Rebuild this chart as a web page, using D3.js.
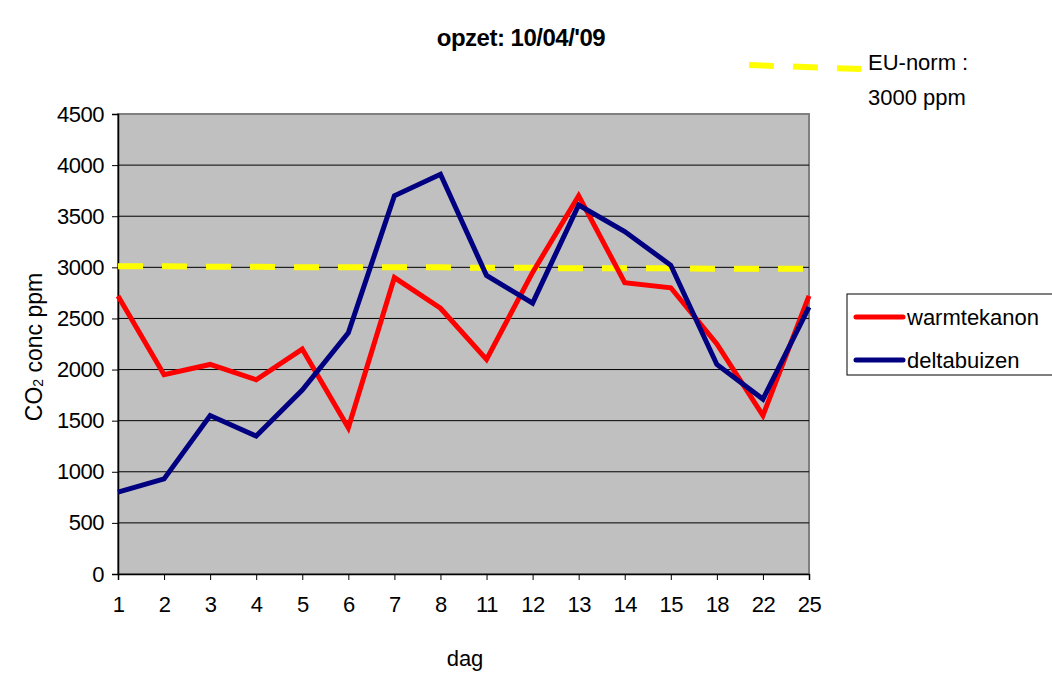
<!DOCTYPE html>
<html>
<head>
<meta charset="utf-8">
<script src="https://cdn.jsdelivr.net/npm/d3@7"></script>
<style>
  body { margin: 0; background: #fff; }
  svg { font-family: "Liberation Sans", Arial, sans-serif; }
</style>
</head>
<body>
<svg id="chart" width="1052" height="673"></svg>
<script>
// dagen (categorie-as)
const days = ["1", "2", "3", "4", "5", "6", "7", "8", "11", "12", "13", "14", "15", "18", "22", "25"];
const warmtekanon = [2720, 1950, 2050, 1900, 2200, 1430, 2900, 2600, 2100, 2950, 3700, 2850, 2800, 2250, 1550, 2720];
const deltabuizen = [800, 930, 1550, 1350, 1800, 2360, 3700, 3910, 2920, 2650, 3610, 3350, 3020, 2050, 1710, 2610];
const euNorm = [3010, 3010, 3005, 3005, 3000, 3000, 3000, 3000, 2995, 2995, 2990, 2990, 2990, 2985, 2985, 2985];
const yTicks = [0, 500, 1000, 1500, 2000, 2500, 3000, 3500, 4000, 4500];

const svg = d3.select("#chart");
const plotLeft = 118, plotRight = 809, plotTop = 114, plotBottom = 574;

let x = d3.scalePoint().domain(days).range([plotLeft, plotRight]);
let y = d3.scaleLinear().domain([0, 4500]).range([plotBottom, plotTop]);

// plot area
svg.append("rect")
    .attr("x", plotLeft).attr("y", plotTop)
    .attr("width", plotRight - plotLeft).attr("height", plotBottom - plotTop)
    .attr("fill", "#c0c0c0")
    .attr("stroke", "#808080")
    .attr("stroke-width", 2);

// gridlines
svg.append("g")
    .selectAll("line")
    .data(yTicks.filter(d => d > 0 && d < 4500))
    .enter().append("line")
    .attr("x1", plotLeft).attr("x2", plotRight)
    .attr("y1", d => y(d)).attr("y2", d => y(d))
    .attr("stroke", "#000").attr("stroke-width", 1);

// axes
let yAxis = d3.axisLeft(y).tickValues(yTicks).tickFormat(d3.format("d")).tickSize(6).tickPadding(8);
let gy = svg.append("g").attr("transform", `translate(${plotLeft},0)`).call(yAxis);
gy.select(".domain").attr("stroke", "#000").attr("stroke-width", 1.5);
gy.selectAll("text").attr("font-size", 22).attr("letter-spacing", -0.5).attr("fill", "#000");

let xAxis = d3.axisBottom(x).tickSize(6).tickPadding(16);
let gx = svg.append("g").attr("transform", `translate(0,${plotBottom})`).call(xAxis);
gx.select(".domain").attr("stroke", "#000").attr("stroke-width", 1.5);
gx.selectAll("text").attr("font-size", 22).attr("letter-spacing", -0.5).attr("fill", "#000");

// lines
let line = d3.line().x((d, i) => x(days[i])).y(d => y(d));

svg.append("path").datum(euNorm)
    .attr("d", line).attr("fill", "none")
    .attr("stroke", "#ffff00").attr("stroke-width", 6)
    .attr("stroke-dasharray", "25,19");

svg.append("path").datum(warmtekanon)
    .attr("d", line).attr("fill", "none")
    .attr("stroke", "#ff0000").attr("stroke-width", 5)
    .attr("stroke-linejoin", "miter");

svg.append("path").datum(deltabuizen)
    .attr("d", line).attr("fill", "none")
    .attr("stroke", "#000080").attr("stroke-width", 5)
    .attr("stroke-linejoin", "miter");

// titles
svg.append("text")
    .attr("x", 521).attr("y", 46)
    .attr("text-anchor", "middle")
    .attr("font-size", 24).attr("font-weight", "bold")
    .attr("letter-spacing", -0.5)
    .text("opzet: 10/04/'09");

svg.append("text")
    .attr("x", 465).attr("y", 666)
    .attr("text-anchor", "middle")
    .attr("font-size", 22)
    .text("dag");

let yl = svg.append("text")
    .attr("transform", "translate(42,347) rotate(-90)")
    .attr("text-anchor", "middle")
    .attr("font-size", 23);
yl.append("tspan").text("CO");
yl.append("tspan").attr("font-size", 14).attr("dy", 1).text("2");
yl.append("tspan").attr("dy", -1).text(" conc ppm");

// EU-norm legend
svg.append("line")
    .attr("x1", 749).attr("y1", 65).attr("x2", 861).attr("y2", 69)
    .attr("stroke", "#ffff00").attr("stroke-width", 6)
    .attr("stroke-dasharray", "25,19");
svg.append("text").attr("x", 868).attr("y", 70).attr("font-size", 22).text("EU-norm :");
svg.append("text").attr("x", 868).attr("y", 105).attr("font-size", 22).text("3000 ppm");

// legend
let legend = svg.append("g");
legend.append("rect")
    .attr("x", 847).attr("y", 294).attr("width", 220).attr("height", 81)
    .attr("fill", "#fff").attr("stroke", "#000").attr("stroke-width", 1);

let items = [
    { name: "warmtekanon", color: "#ff0000" },
    { name: "deltabuizen", color: "#000080" }
];
items.forEach((it, i) => {
    let ly = 317 + i * 43;
    legend.append("line")
        .attr("x1", 856).attr("x2", 903).attr("y1", ly).attr("y2", ly)
        .attr("stroke", it.color).attr("stroke-width", 5)
        .attr("stroke-linecap", "round");
    legend.append("text")
        .attr("x", 907).attr("y", ly + 8)
        .attr("font-size", 22)
        .text(it.name);
});
</script>
</body>
</html>
